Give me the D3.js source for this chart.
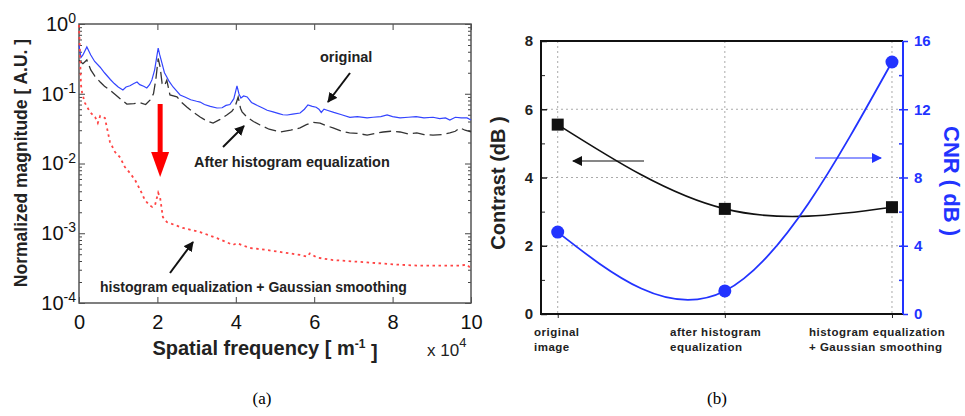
<!DOCTYPE html>
<html>
<head>
  <meta charset="UTF-8" />
  <title>Spectrum and contrast / CNR</title>
  <style>
    body { margin: 0; background: white; }
    svg { display: block; font-family: "Liberation Sans", Arial, Helvetica, sans-serif; }
    .serif { font-family: "Liberation Serif", "Times New Roman", serif; }
  </style>
  <script src="https://d3js.org/d3.v7.min.js"></script>
</head>
<body>
  <svg id="fig" width="965" height="416"></svg>
  <script>
    // (a) spectra, [spatial frequency (x1e4 m^-1), normalized magnitude]
    const original = [
      [0, 0.50], [0.05, 0.33], [0.1, 0.36], [0.2, 0.47], [0.3, 0.36], [0.4, 0.29], [0.54, 0.24], [0.65, 0.2],
      [0.8, 0.16], [0.9, 0.14], [1.0, 0.125], [1.12, 0.113], [1.2, 0.125], [1.3, 0.13], [1.4, 0.14], [1.48, 0.147],
      [1.55, 0.135], [1.65, 0.128], [1.73, 0.121], [1.8, 0.135], [1.86, 0.158], [1.93, 0.22], [1.98, 0.33],
      [2.02, 0.45], [2.06, 0.36], [2.12, 0.27], [2.18, 0.2], [2.24, 0.174], [2.3, 0.15], [2.4, 0.125], [2.5, 0.108],
      [2.58, 0.096], [2.7, 0.09], [2.85, 0.082], [3.0, 0.078], [3.09, 0.076], [3.2, 0.07], [3.35, 0.066],
      [3.52, 0.0625], [3.65, 0.063], [3.75, 0.068], [3.85, 0.07], [3.95, 0.085], [4.03, 0.13], [4.08, 0.1],
      [4.13, 0.087], [4.2, 0.093], [4.29, 0.09], [4.4, 0.075], [4.55, 0.068], [4.7, 0.062], [4.8, 0.058],
      [4.95, 0.055], [5.1, 0.052], [5.2, 0.05], [5.31, 0.0496], [5.45, 0.051], [5.64, 0.053], [5.75, 0.06],
      [5.84, 0.069], [5.95, 0.066], [6.05, 0.064], [6.12, 0.06], [6.18, 0.054], [6.25, 0.06], [6.33, 0.058],
      [6.5, 0.054], [6.7, 0.05], [6.91, 0.046], [7.1, 0.047], [7.35, 0.045], [7.5, 0.046], [7.7, 0.047],
      [7.86, 0.0496], [8.0, 0.047], [8.19, 0.045], [8.4, 0.046], [8.6, 0.047], [8.8, 0.045], [9.03, 0.046],
      [9.2, 0.044], [9.35, 0.045], [9.46, 0.042], [9.6, 0.046], [9.75, 0.045], [9.9, 0.045], [10, 0.042]
    ];
    const afterHE = [
      [0, 0.3], [0.1, 0.27], [0.2, 0.305], [0.3, 0.22], [0.4, 0.18], [0.54, 0.147], [0.65, 0.128], [0.79, 0.113],
      [0.9, 0.1], [1.05, 0.085], [1.22, 0.071], [1.4, 0.072], [1.56, 0.074], [1.7, 0.07], [1.81, 0.081],
      [1.9, 0.1], [1.96, 0.16], [2.02, 0.32], [2.07, 0.24], [2.12, 0.14], [2.18, 0.13], [2.24, 0.157],
      [2.32, 0.096], [2.5, 0.09], [2.62, 0.075], [2.75, 0.0646], [2.9, 0.055], [3.09, 0.0464], [3.25, 0.041],
      [3.42, 0.038], [3.6, 0.043], [3.77, 0.0496], [3.9, 0.056], [3.98, 0.065], [4.06, 0.09], [4.12, 0.062],
      [4.16, 0.055], [4.29, 0.046], [4.45, 0.04], [4.62, 0.0356], [4.85, 0.031], [5.13, 0.0283], [5.4, 0.03],
      [5.64, 0.0324], [5.8, 0.036], [5.97, 0.039], [6.15, 0.038], [6.3, 0.035], [6.48, 0.0324], [6.7, 0.029],
      [6.9, 0.0275], [7.1, 0.027], [7.35, 0.0256], [7.55, 0.027], [7.76, 0.0283], [7.95, 0.029], [8.19, 0.0283],
      [8.4, 0.0265], [8.62, 0.0274], [8.8, 0.026], [9.03, 0.0256], [9.25, 0.026], [9.46, 0.0274], [9.6, 0.029],
      [9.72, 0.0324], [9.85, 0.03], [10, 0.0283]
    ];
    const heGauss = [
      [0, 0.97], [0.03, 0.30], [0.05, 0.134], [0.08, 0.1026], [0.15, 0.074], [0.28, 0.0547], [0.41, 0.0464],
      [0.48, 0.038], [0.54, 0.048], [0.66, 0.045], [0.79, 0.0203], [0.92, 0.0146], [1.05, 0.0122], [1.17, 0.0089],
      [1.3, 0.0073], [1.43, 0.0058], [1.56, 0.0042], [1.68, 0.003], [1.79, 0.00254], [1.87, 0.00238],
      [1.94, 0.00254], [2.02, 0.0038], [2.07, 0.0032], [2.14, 0.0017], [2.24, 0.00145], [2.65, 0.00119],
      [3.09, 0.00104], [3.52, 0.00085], [3.93, 0.00068], [4.03, 0.00072], [4.36, 0.000615], [4.8, 0.000575],
      [5.64, 0.000488], [5.82, 0.000463], [5.89, 0.000515], [6.07, 0.000448], [6.48, 0.000413], [7.35, 0.000382],
      [8.19, 0.000353], [8.62, 0.000344], [9.03, 0.000344], [9.72, 0.000344], [9.9, 0.000355], [10, 0.000311]
    ];
    const freqTicks = [0, 2, 4, 6, 8, 10];
    const magExponents = [0, -1, -2, -3, -4];

    // (b) contrast and CNR per processing step
    const steps = [["original", "image"], ["after histogram", "equalization"], ["histogram equalization", "+ Gaussian smoothing"]];
    const contrast = [5.55, 3.08, 3.13];
    const cnr = [4.8, 1.35, 14.77];
    const contrastTicks = [0, 2, 4, 6, 8];
    const cnrTicks = [0, 4, 8, 12, 16];

    const svg = d3.select("#fig");
    const defs = svg.append("defs");
    [["blk", "#111"], ["blu", "#2233ff"]].forEach(([id, c]) => {
      defs.append("marker").attr("id", id).attr("viewBox", "0 0 10 10").attr("refX", 9).attr("refY", 5)
        .attr("markerWidth", 10).attr("markerHeight", 10).attr("markerUnits", "userSpaceOnUse")
        .attr("orient", "auto")
        .append("path").attr("d", "M0,0 L10,5 L0,10 z").attr("fill", c);
    });

    /* ---------- (a) ---------- */
    const xA = d3.scaleLinear().domain([0, 10]).range([79, 471]);
    const yA = d3.scaleLog().domain([1e-4, 1]).range([303, 24]);
    const gA = svg.append("g");

    const minorA = [];
    for (let e = -4; e < 0; e++) for (let m = 2; m <= 9; m++) minorA.push(m * Math.pow(10, e));

    const styleAxis = g => {
      g.select(".domain").remove();
      g.selectAll(".tick line").attr("stroke", "#444");
    };
    gA.append("g").attr("transform", "translate(79,0)")
      .call(d3.axisLeft(yA).tickValues(minorA).tickSize(-3).tickFormat("")).call(styleAxis);
    gA.append("g").attr("transform", "translate(471,0)")
      .call(d3.axisRight(yA).tickValues(minorA).tickSize(-3).tickFormat("")).call(styleAxis);
    gA.append("g").attr("transform", "translate(471,0)")
      .call(d3.axisRight(yA).tickValues(magExponents.map(e => Math.pow(10, e))).tickSize(-6).tickFormat("")).call(styleAxis);
    gA.append("g").attr("transform", "translate(0,24)")
      .call(d3.axisTop(xA).tickValues(freqTicks).tickSize(-6).tickFormat("")).call(styleAxis);

    const yAxisA = gA.append("g").attr("transform", "translate(79,0)")
      .call(d3.axisLeft(yA).tickValues(magExponents.map(e => Math.pow(10, e))).tickSize(-6).tickPadding(3).tickFormat(""))
      .call(styleAxis);
    yAxisA.selectAll(".tick text").each(function (d) {
      const t = d3.select(this).attr("font-size", 20).attr("fill", "#111").attr("font-family", null);
      t.append("tspan").text("10");
      t.append("tspan").attr("dy", "-0.55em").attr("font-size", 14).text(Math.round(Math.log10(d)));
    });

    const xAxisA = gA.append("g").attr("transform", "translate(0,303)")
      .call(d3.axisBottom(xA).tickValues(freqTicks).tickSize(-6).tickPadding(12))
      .call(styleAxis);
    xAxisA.selectAll(".tick text").attr("font-size", 20).attr("fill", "#111").attr("font-family", null);

    gA.append("rect").attr("x", 79).attr("y", 24).attr("width", 392).attr("height", 279)
      .attr("fill", "none").attr("stroke", "#555").attr("stroke-width", 1.5);

    const lineA = d3.line().x(d => xA(d[0])).y(d => yA(d[1]));
    gA.append("path").datum(afterHE).attr("d", lineA).attr("fill", "none")
      .attr("stroke", "#333").attr("stroke-width", 1.3).attr("stroke-dasharray", "12,5");
    gA.append("path").datum(original).attr("d", lineA).attr("fill", "none")
      .attr("stroke", "#3344ff").attr("stroke-width", 1.2);
    gA.append("path").datum(heGauss).attr("d", lineA).attr("fill", "none")
      .attr("stroke", "#ff4444").attr("stroke-width", 1.8).attr("stroke-dasharray", "2.5,3.5");

    // big red arrow
    gA.append("line").attr("x1", xA(2.07)).attr("x2", xA(2.07)).attr("y1", yA(0.0713)).attr("y2", yA(0.0146))
      .attr("stroke", "red").attr("stroke-width", 5);
    gA.append("path").attr("fill", "red").attr("d", d3.line()([
      [xA(2.07) - 9, yA(0.0146)], [xA(2.07) + 9, yA(0.0146)], [xA(2.07), yA(0.0064)]
    ]));

    // annotations
    const bold = (g, x, y, s, size, anchor) => g.append("text").attr("x", x).attr("y", y)
      .attr("font-size", size).attr("font-weight", "bold").attr("fill", "#222")
      .attr("text-anchor", anchor || "start").attr("dominant-baseline", "middle").text(s);
    const arrow = (g, x1, y1, x2, y2, id, w) => g.append("line")
      .attr("x1", x1).attr("y1", y1).attr("x2", x2).attr("y2", y2)
      .attr("stroke", id === "blu" ? "#2233ff" : "#111").attr("stroke-width", w || 1.5)
      .attr("marker-end", `url(#${id})`);

    bold(gA, 320, 58, "original", 14.5);
    arrow(gA, 350, 73, 328, 102, "blk", 2);
    bold(gA, 194, 163, "After histogram equalization", 14.5);
    arrow(gA, 223, 147, 244, 126, "blk", 2);
    bold(gA, 100, 288, "histogram equalization + Gaussian smoothing", 14);
    arrow(gA, 170, 273, 193, 242, "blk", 2);

    gA.append("text").attr("transform", "translate(22,163) rotate(-90)")
      .attr("text-anchor", "middle").attr("dominant-baseline", "middle")
      .attr("font-size", 17.5).attr("font-weight", "bold").attr("fill", "#222")
      .text("Normalized magnitude [ A.U. ]");

    const xl = gA.append("text").attr("x", 265).attr("y", 350).attr("text-anchor", "middle")
      .attr("dominant-baseline", "middle").attr("font-size", 20).attr("font-weight", "bold").attr("fill", "#222");
    xl.append("tspan").text("Spatial frequency [ m");
    xl.append("tspan").attr("dy", "-0.45em").attr("font-size", 12).text("-1");
    xl.append("tspan").attr("dy", "0.45em").text(" ]");

    const sc = gA.append("text").attr("x", 427).attr("y", 352).attr("dominant-baseline", "middle")
      .attr("font-size", 17).attr("fill", "#222");
    sc.append("tspan").text("x 10");
    sc.append("tspan").attr("dy", "-0.6em").attr("font-size", 13).text("4");

    gA.append("text").attr("class", "serif").attr("x", 262).attr("y", 400).attr("text-anchor", "middle")
      .attr("dominant-baseline", "middle").attr("font-size", 17).text("(a)");

    /* ---------- (b) ---------- */
    const xB = d3.scaleLinear().domain([-0.1, 2.066]).range([541, 903]);
    const yB = d3.scaleLinear().domain([0, 8]).range([314, 41]);
    const yB2 = d3.scaleLinear().domain([0, 16]).range([314, 41]);
    const gB = svg.append("g");

    // dotted grid
    gB.append("g").selectAll("line").data([2, 4, 6]).join("line")
      .attr("x1", 541).attr("x2", 903).attr("y1", d => yB(d)).attr("y2", d => yB(d))
      .attr("stroke", "#aaa").attr("stroke-dasharray", "2,3");
    gB.append("g").selectAll("line").data(steps.map((s, i) => i)).join("line")
      .attr("x1", d => xB(d)).attr("x2", d => xB(d)).attr("y1", 41).attr("y2", 314)
      .attr("stroke", "#aaa").attr("stroke-dasharray", "2,3");

    const leftB = gB.append("g").attr("transform", "translate(541,0)")
      .call(d3.axisLeft(yB).tickValues(contrastTicks).tickSize(0).tickPadding(8));
    leftB.select(".domain").remove();
    leftB.selectAll(".tick text").attr("font-size", 15).attr("font-weight", "bold").attr("fill", "#222").attr("font-family", null);
    gB.append("g").attr("transform", "translate(541,0)")
      .call(d3.axisLeft(yB).tickValues([1, 3, 5, 7]).tickSize(-4).tickFormat(""))
      .call(g => g.select(".domain").remove()).selectAll("line").attr("stroke", "#222");
    gB.append("g").attr("transform", "translate(541,0)")
      .call(d3.axisLeft(yB).tickValues(contrastTicks).tickSize(-6).tickFormat(""))
      .call(g => g.select(".domain").remove()).selectAll("line").attr("stroke", "#222").attr("stroke-width", 1.5);

    const rightB = gB.append("g").attr("transform", "translate(903,0)")
      .call(d3.axisRight(yB2).tickValues(cnrTicks).tickSize(5).tickPadding(6));
    rightB.select(".domain").remove();
    rightB.selectAll(".tick line").attr("stroke", "#2233ff").attr("stroke-width", 1.5);
    rightB.selectAll(".tick text").attr("font-size", 15).attr("font-weight", "bold").attr("fill", "#2233ff").attr("font-family", null);
    gB.append("g").attr("transform", "translate(903,0)")
      .call(d3.axisLeft(yB2).tickValues([2, 4, 6, 8, 10, 12, 14]).tickSize(4).tickFormat(""))
      .call(g => g.select(".domain").remove()).selectAll("line").attr("stroke", "#2233ff").attr("stroke-width", 1.5);

    const botB = gB.append("g").attr("transform", "translate(0,314)")
      .call(d3.axisBottom(xB).tickValues([0, 1, 2]).tickSize(4).tickFormat(""));
    botB.select(".domain").remove();
    botB.selectAll(".tick line").attr("stroke", "#222");

    // frame
    gB.append("path").attr("d", `M903,41 H541 V314 H903`).attr("fill", "none").attr("stroke", "#111").attr("stroke-width", 2);
    gB.append("line").attr("x1", 903).attr("x2", 903).attr("y1", 41).attr("y2", 314)
      .attr("stroke", "#2233ff").attr("stroke-width", 2);

    // category labels
    steps.forEach((s, i) => {
      const t = gB.append("text").attr("x", [534, 670, 809][i]).attr("font-size", 11.5)
        .attr("font-weight", "bold").attr("fill", "#222").attr("letter-spacing", 0.5);
      s.forEach((line, j) => t.append("tspan").attr("x", [534, 670, 809][i]).attr("y", 336 + j * 15).text(line));
    });

    const curve = d3.curveNatural;
    gB.append("path").datum(contrast).attr("fill", "none").attr("stroke", "#111").attr("stroke-width", 1.6)
      .attr("d", d3.line().curve(curve).x((d, i) => xB(i)).y(d => yB(d)));
    gB.append("path").datum(cnr).attr("fill", "none").attr("stroke", "#2233ff").attr("stroke-width", 1.8)
      .attr("d", d3.line().curve(curve).x((d, i) => xB(i)).y(d => yB2(d)));

    gB.selectAll("rect.pt").data(contrast).join("rect").attr("class", "pt")
      .attr("x", (d, i) => xB(i) - 6).attr("y", d => yB(d) - 6).attr("width", 12).attr("height", 12).attr("fill", "#111");
    gB.selectAll("circle.pt").data(cnr).join("circle").attr("class", "pt")
      .attr("cx", (d, i) => xB(i)).attr("cy", d => yB2(d)).attr("r", 6.5).attr("fill", "#2233ff");

    arrow(gB, 644, 161, 573, 161, "blk", 1.2);
    arrow(gB, 815, 158, 881, 158, "blu", 1.2);

    gB.append("text").attr("transform", "translate(500,183) rotate(-90)").attr("text-anchor", "middle")
      .attr("dominant-baseline", "middle").attr("font-size", 20).attr("font-weight", "bold").attr("fill", "#222")
      .text("Contrast (dB )");
    gB.append("text").attr("transform", "translate(950,181) rotate(90)").attr("text-anchor", "middle")
      .attr("dominant-baseline", "middle").attr("font-size", 22).attr("font-weight", "bold").attr("fill", "#2233ff")
      .text("CNR ( dB )");

    gB.append("text").attr("class", "serif").attr("x", 717).attr("y", 400).attr("text-anchor", "middle")
      .attr("dominant-baseline", "middle").attr("font-size", 17).text("(b)");
  </script>
</body>
</html>
